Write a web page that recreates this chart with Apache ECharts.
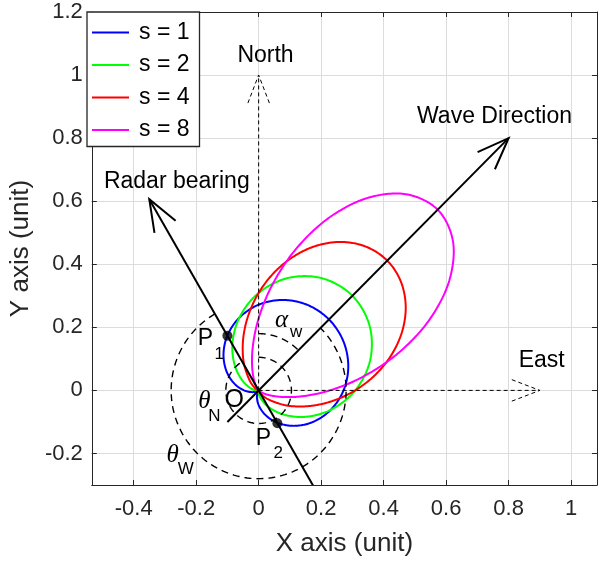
<!DOCTYPE html>
<html><head><meta charset="utf-8">
<script src="https://cdn.jsdelivr.net/npm/echarts@6/dist/echarts.min.js"></script>
<style>html,body{margin:0;padding:0;background:#fff}#c{width:600px;height:562px}</style>
</head><body><div id="c"></div>
<script>
// ---------- data ----------
const seriesNames = ['s = 1', 's = 2', 's = 4', 's = 8'];
const seriesColors = ['#0000ff', '#00ff00', '#ff0000', '#ff00ff'];

const curveS1 = [[0,0],[-0.0027,-0.0047],[-0.0055,-0.0206],[0,-0.0466],[0.0206,-0.0769],[0.0590,-0.1022],[0.1125,-0.1125],[0.1735,-0.1002],[0.2306,-0.0618],[0.2717,0],[0.2869,0.0769],[0.2710,0.1564],[0.2251,0.2251],[0.1564,0.2710],[0.0769,0.2869],[0,0.2717],[-0.0618,0.2306],[-0.1002,0.1735],[-0.1125,0.1125],[-0.1022,0.0590],[-0.0769,0.0206],[-0.0466,0],[-0.0206,-0.0055],[-0.0047,-0.0027],[0,0]];
const curveS2 = [[0,0],[-0.0005,-0.0018],[0,-0.0091],[0.0069,-0.0256],[0.0291,-0.0505],[0.0750,-0.0750],[0.1456,-0.0841],[0.2306,-0.0618],[0.3092,0],[0.3569,0.0956],[0.3551,0.2050],[0.3001,0.3001],[0.2050,0.3551],[0.0956,0.3569],[0,0.3092],[-0.0618,0.2306],[-0.0841,0.1456],[-0.0750,0.0750],[-0.0505,0.0291],[-0.0256,0.0069],[-0.0091,0],[-0.0018,-0.0005],[0,0]];
const curveS4 = [[0,0],[0.0006,-0.0022],[0.0055,-0.0095],[0.0257,-0.0257],[0.0791,-0.0457],[0.1228,-0.0509],[0.1779,-0.0477],[0.2416,-0.0318],[0.3090,0],[0.3731,0.0491],[0.4261,0.1142],[0.4605,0.1907],[0.4706,0.2717],[0.4539,0.3483],[0.4116,0.4116],[0.3483,0.4539],[0.2717,0.4706],[0.1907,0.4605],[0.1142,0.4261],[0.0491,0.3731],[0,0.3090],[-0.0318,0.2416],[-0.0477,0.1779],[-0.0509,0.1228],[-0.0457,0.0791],[-0.0257,0.0257],[-0.0095,0.0055],[-0.0022,0.0006],[0,0]];
const curveS8 = [[0,0],[0.0022,-0.0022],[0.0173,-0.0100],[0.0391,-0.0162],[0.0784,-0.0210],[0.1408,-0.0185],[0.2283,0],[0.3358,0.0442],[0.4495,0.1205],[0.5490,0.2274],[0.6117,0.3532],[0.6213,0.4767],[0.5731,0.5731],[0.4767,0.6213],[0.3532,0.6117],[0.2274,0.5490],[0.1205,0.4495],[0.0442,0.3358],[0,0.2283],[-0.0185,0.1408],[-0.0210,0.0784],[-0.0162,0.0391],[-0.0100,0.0173],[-0.0022,0.0022],[0,0]];

const bearingPoints = [[-0.1, 0.1732], [0.06, -0.1039]];      // P1, P2
// arrows: [x0, y0, x1, y1, dashed]
const arrowLines = [
  [-0.1, -0.1, 0.8, 0.8, 0],        // wave direction
  [0.2, -0.3464, -0.35, 0.6062, 0], // radar bearing
  [0, 0, 0, 1.0, 1],                // north
  [0, 0, 0.9, 0, 1]                 // east
];
// arcs: [radius, startDeg, endDeg]
const angleArcs = [
  [0.28, 120, 405],   // theta_W
  [0.105, 90, -240],  // theta_N
  [0.18, 90, 45]      // alpha_w
];
const xTickStep = 0.2;
const yTickStep = 0.2;

// annotation texts (anchor coordinates in data units)
const noteTexts = ['North', 'East', 'Wave Direction', 'Radar bearing', 'P', '1', 'P', '2', 'O', 'θ', 'N', 'θ', 'W', 'α', 'w'];
const noteAnchors = [[0.022,1.062],[0.906,0.095],[0.755,0.868],[-0.262,0.663],[-0.17,0.164],[-0.126,0.116],[0.015,-0.152],[0.063,-0.198],[-0.078,-0.032],[-0.174,-0.035],[-0.142,-0.083],[-0.275,-0.205],[-0.233,-0.251],[0.073,0.221],[0.12,0.183]];
const noteKinds = ['t','t','t','t','t','sub','t','sub','o','g','sub','g','sub','g','sub'];

// ---------- chart ----------
const FONT = 'Liberation Sans, Arial, sans-serif';
const SERIF = 'Liberation Serif, Times New Roman, serif';
const AX = '#262626';
const chart = echarts.init(document.getElementById('c'), null, {renderer: 'canvas'});

function onStep(v, step) { return Math.abs(v / step - Math.round(v / step)) < 1e-6; }
function fmt(v) { return String(+v.toFixed(1)); }

const xMin = -0.534, xMax = 1.083, yMin = -0.3, yMax = 1.2;

function axisCommon(isX, show) {
  return {
    type: 'value',
    min: isX ? xMin : yMin,
    max: isX ? xMax : yMax,
    splitNumber: isX ? 8 : 7,
    axisLine: {show: true, onZero: false, lineStyle: {color: AX, width: 1}},
    axisTick: {show: true, inside: true, length: 5, lineStyle: {color: AX, width: 1}},
    axisLabel: {
      show: show, color: AX, fontSize: 22, fontFamily: FONT, margin: isX ? 13 : 9,
      formatter: v => onStep(v, isX ? xTickStep : yTickStep) ? fmt(v) : ''
    },
    splitLine: {show: show, lineStyle: {color: '#dcdcdc', width: 1}}
  };
}

const xBottom = Object.assign(axisCommon(true, true), {
  position: 'bottom', name: 'X axis (unit)', nameLocation: 'middle', nameGap: 46,
  nameTextStyle: {fontSize: 26, fontFamily: FONT, color: AX}
});
const xTop = Object.assign(axisCommon(true, false), {position: 'top'});
const yLeft = Object.assign(axisCommon(false, true), {
  position: 'left', name: 'Y axis (unit)', nameLocation: 'middle', nameGap: 56,
  nameTextStyle: {fontSize: 26, fontFamily: FONT, color: AX}
});
const yRight = Object.assign(axisCommon(false, false), {position: 'right'});

// Catmull-Rom spline through the curve points (pixel space), drawn once as a dense polyline
function makeCurveRenderer(curve, color) {
  return function (params, api) {
    if (params.dataIndex !== 0) return null;
    const n = curve.length;
    const px = curve.map(p => api.coord(p));
    const P = k => px[Math.max(0, Math.min(n - 1, k))];
    const out = [px[0]];
    for (let i = 0; i < n - 1; i++) {
      const p1 = P(i), p2 = P(i + 1);
      const p0 = (i === 0) ? [2 * p1[0] - p2[0], 2 * p1[1] - p2[1]] : P(i - 1);
      const p3 = (i + 1 === n - 1) ? [2 * p2[0] - p1[0], 2 * p2[1] - p1[1]] : P(i + 2);
      const tj = (a, b) => Math.pow(Math.hypot(b[0] - a[0], b[1] - a[1]), 0.5) || 1e-6;
      const t0 = 0, t1 = t0 + tj(p0, p1), t2 = t1 + tj(p1, p2), t3 = t2 + tj(p2, p3);
      const steps = 20;
      for (let s = 1; s <= steps; s++) {
        const t = t1 + (t2 - t1) * s / steps;
        const L = (A, B, ta, tb) => [
          ((tb - t) * A[0] + (t - ta) * B[0]) / (tb - ta),
          ((tb - t) * A[1] + (t - ta) * B[1]) / (tb - ta)];
        const A1 = L(p0, p1, t0, t1), A2 = L(p1, p2, t1, t2), A3 = L(p2, p3, t2, t3);
        const B1 = L(A1, A2, t0, t2), B2 = L(A2, A3, t1, t3);
        out.push(L(B1, B2, t1, t2));
      }
    }
    return {type: 'polyline', shape: {points: out},
      style: {stroke: color, lineWidth: 2, fill: null, lineJoin: 'round'}};
  };
}

const curves = [curveS1, curveS2, curveS4, curveS8];
const curveSeries = curves.map((d, i) => ({
  type: 'custom', name: seriesNames[i], data: d, renderItem: makeCurveRenderer(d, seriesColors[i]),
  itemStyle: {color: seriesColors[i]}, clip: true, z: 3, silent: true
}));

function renderArrow(params, api) {
  const p0 = api.coord([api.value(0), api.value(1)]);
  const p1 = api.coord([api.value(2), api.value(3)]);
  const dashed = api.value(4) === 1;
  const ang = Math.atan2(p0[1] - p1[1], p0[0] - p1[0]);
  const L = dashed ? 30 : 34, h = 21 * Math.PI / 180;
  const a1 = [p1[0] + L * Math.cos(ang + h), p1[1] + L * Math.sin(ang + h)];
  const a2 = [p1[0] + L * Math.cos(ang - h), p1[1] + L * Math.sin(ang - h)];
  const style = {stroke: '#000', lineWidth: dashed ? 1 : 2, lineDash: dashed ? [4, 3] : null, fill: null};
  return {type: 'group', children: [
    {type: 'line', shape: {x1: p0[0], y1: p0[1], x2: p1[0], y2: p1[1]}, style: style},
    {type: 'polyline', shape: {points: [a1, p1, a2]}, style: style}
  ]};
}

function renderArc(params, api) {
  const r = api.value(0), a0 = api.value(1), a1 = api.value(2);
  const n = 160, pts = [];
  for (let i = 0; i <= n; i++) {
    const a = (a0 + (a1 - a0) * i / n) * Math.PI / 180;
    pts.push(api.coord([r * Math.cos(a), r * Math.sin(a)]));
  }
  return {type: 'polyline', shape: {points: pts},
    style: {stroke: '#000', lineWidth: 1.4, lineDash: [7, 5], fill: null}};
}

function renderNote(params, api) {
  const i = params.dataIndex;
  const p = api.coord([api.value(0), api.value(1)]);
  const kind = noteKinds[i];
  let font;
  if (kind === 'g') font = 'italic 25px ' + SERIF;
  else if (kind === 'sub') font = '17px ' + FONT;
  else if (kind === 'o') font = '25px ' + FONT;
  else font = '23px ' + FONT;
  return {type: 'text', x: p[0], y: p[1],
    style: {text: noteTexts[i], font: font, fill: '#000', align: 'center', verticalAlign: 'middle'}};
}

chart.setOption({
  animation: false,
  backgroundColor: '#fff',
  grid: {left: 87, top: 12, right: 1, bottom: 75, containLabel: false},
  xAxis: [xBottom, xTop],
  yAxis: [yLeft, yRight],
  legend: {
    data: seriesNames, orient: 'vertical', left: 87, top: 12,
    padding: [9, 10, 5, 5], itemGap: 9.5, itemWidth: 37, itemHeight: 2, icon: 'rect',
    backgroundColor: '#fff', borderColor: AX, borderWidth: 1.3,
    textStyle: {fontSize: 23, fontFamily: FONT, color: '#000', lineHeight: 22, padding: [0, 0, 0, 5]},
    selectedMode: false
  },
  series: curveSeries.concat([
    {type: 'custom', data: angleArcs, renderItem: renderArc, clip: true, z: 4, silent: true},
    {type: 'custom', data: arrowLines, renderItem: renderArrow, clip: true, z: 5, silent: true},
    {type: 'scatter', data: bearingPoints, symbol: 'circle', symbolSize: 10,
      itemStyle: {color: '#000'}, z: 6, silent: true},
    {type: 'custom', data: noteAnchors, renderItem: renderNote, clip: false, z: 7, silent: true}
  ])
});
</script>
</body></html>
